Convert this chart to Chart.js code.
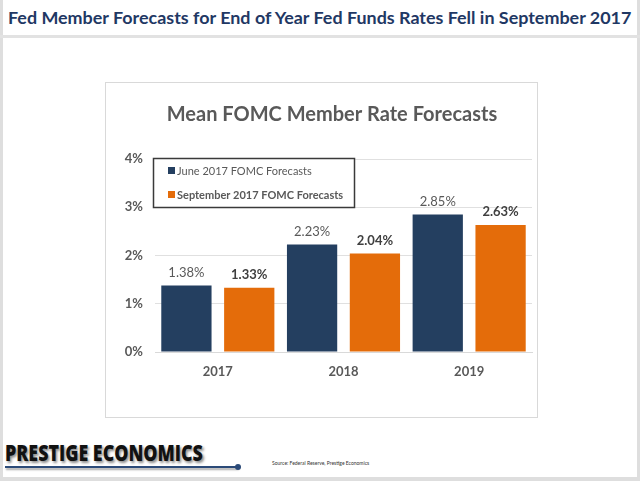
<!DOCTYPE html>
<html>
<head>
<meta charset="utf-8">
<script src="https://cdn.jsdelivr.net/npm/chart.js@4"></script>
<style>
  html, body { margin:0; padding:0; background:#fff; }
  #page { position:relative; width:640px; height:481px; overflow:hidden; background:#fff; }
  #frame { position:absolute; left:0; top:0; width:640px; height:481px; box-sizing:border-box;
           border-left:3px solid #dedede; border-right:3px solid #dedede; border-bottom:4px solid #dedede; }
  #sep { position:absolute; left:0; top:35px; width:640px; height:3px; background:#e2e2e2; }
  #hdr { position:absolute; left:8px; top:6px; white-space:nowrap; font-family:Lato, "Open Sans", sans-serif;
         font-weight:700; font-size:20px; color:#1f3864; }
  #box { position:absolute; left:105px; top:82px; width:433px; height:336px; box-sizing:border-box;
         border:1px solid #d9d9d9; }
  #c { position:absolute; left:106px; top:83px; }
  #brand { position:absolute; left:5px; top:436px; font-family:"Open Sans", Lato, sans-serif; font-weight:800;
           font-size:23px; color:#111; text-shadow:2px 2px 3px rgba(0,0,0,0.45); white-space:nowrap;
           transform-origin:0 0; }
  #rule { position:absolute; left:5px; top:466px; width:233px; height:2px; background:#2b4a78;
          box-shadow:1px 2px 2px rgba(0,0,0,0.35); }
  #dot { position:absolute; left:235px; top:464px; width:6px; height:6px; border-radius:3px; background:#2b4a78; }
  #src { position:absolute; left:272px; top:460px; font-family:Lato, sans-serif; font-size:5px; color:#333; white-space:nowrap; }
</style>
</head>
<body>
<div id="page">
  <div id="frame"></div>
  <div id="sep"></div>
  <div id="hdr">Fed Member Forecasts for End of Year Fed Funds Rates Fell in September 2017</div>
  <div id="box"></div>
  <canvas id="c" width="436" height="334" style="width:436px;height:334px"></canvas>
  <div id="brand">PRESTIGE ECONOMICS</div>
  <div id="rule"></div>
  <div id="dot"></div>
  <div id="src">Source: Federal Reserve, Prestige Economics</div>
</div>
<script>
const categories = ["2017", "2018", "2019"];
const juneForecasts = [1.38, 2.23, 2.85];
const septForecasts = [1.33, 2.04, 2.63];
const seriesNames = ["June 2017 FOMC Forecasts", "September 2017 FOMC Forecasts"];
const yTickStep = 1;
const yMax = 4;
const chartTitle = "Mean FOMC Member Rate Forecasts";

const NAVY = "#243f60";
const ORANGE = "#e46c0a";
const FONT = "Lato, 'Open Sans', sans-serif";

(function(){
  const h = document.getElementById('hdr');
  const w = h.getBoundingClientRect().width;
  h.style.fontSize = (20 * 624 / w).toFixed(2) + 'px';
  const b = document.getElementById('brand');
  const bw = b.getBoundingClientRect().width;
  b.style.transform = 'scaleX(' + (198 / bw).toFixed(3) + ')';
})();

const labelPlugin = {
  id: 'barLabels',
  afterDatasetsDraw(chart) {
    const ctx = chart.ctx;
    chart.data.datasets.forEach((ds, di) => {
      const meta = chart.getDatasetMeta(di);
      meta.data.forEach((bar, i) => {
        ctx.save();
        ctx.font = (di === 1 ? "bold " : "") + "13px " + FONT;
        ctx.fillStyle = di === 1 ? "#404040" : "#595959";
        ctx.textAlign = "center";
        ctx.textBaseline = "middle";
        ctx.fillText(ds.data[i].toFixed(2) + "%", bar.x, bar.y - 13);
        ctx.restore();
      });
    });
  }
};

const legendPlugin = {
  id: 'boxLegend',
  afterDraw(chart) {
    const ctx = chart.ctx;
    ctx.save();
    const x = 47, y = 75, w = 201, h = 49;
    ctx.fillStyle = "#fff";
    ctx.fillRect(x, y, w, h);
    ctx.strokeStyle = "#3a3a3a";
    ctx.lineWidth = 1.5;
    ctx.strokeRect(x + 0.5, y + 0.5, w, h);
    chart.data.datasets.forEach((ds, di) => {
      const cy = y + 13 + di * 24;
      ctx.fillStyle = ds.backgroundColor;
      ctx.fillRect(x + 15, cy - 4, 7, 7);
      ctx.font = (di === 1 ? "bold " : "") + "11px " + FONT;
      ctx.fillStyle = "#595959";
      ctx.textBaseline = "middle";
      ctx.textAlign = "left";
      ctx.fillText(ds.label, x + 24, cy);
    });
    ctx.restore();
  }
};

new Chart(document.getElementById('c'), {
  type: 'bar',
  data: {
    labels: categories,
    datasets: [
      { label: seriesNames[0], data: juneForecasts, backgroundColor: NAVY,
        categoryPercentage: 1.0, barPercentage: 0.8 },
      { label: seriesNames[1], data: septForecasts, backgroundColor: ORANGE,
        categoryPercentage: 1.0, barPercentage: 0.8 }
    ]
  },
  options: {
    responsive: false,
    animation: false,
    layout: { padding: { left: 18, right: 2, top: 0, bottom: 0 } },
    plugins: {
      legend: { display: false },
      tooltip: { enabled: false },
      title: {
        display: true, text: chartTitle, color: "#595959",
        font: { family: FONT, size: 20, weight: "bold" },
        padding: { top: 20, bottom: 32 }
      }
    },
    scales: {
      x: {
        grid: { display: false, drawTicks: false },
        border: { display: true, color: "#d9d9d9" },
        ticks: { color: "#595959", font: { family: FONT, size: 13, weight: "bold" }, padding: 12 },
        afterFit(s) { s.height = 65; }
      },
      y: {
        min: 0, max: yMax,
        grid: { color: "#e0e0e0", drawTicks: false },
        border: { display: false },
        ticks: { stepSize: yTickStep, color: "#595959", font: { family: FONT, size: 13, weight: "bold" }, padding: 12,
                 callback: v => v + "%" },
        afterFit(s) { s.width = 31; }
      },
      ySpacer: {
        type: 'linear', position: 'right', display: true,
        grid: { display: false, drawTicks: false },
        border: { display: false },
        ticks: { display: false },
        afterFit(s) { s.width = 8; }
      }
    }
  },
  plugins: [labelPlugin, legendPlugin]
});
</script>
</body>
</html>
